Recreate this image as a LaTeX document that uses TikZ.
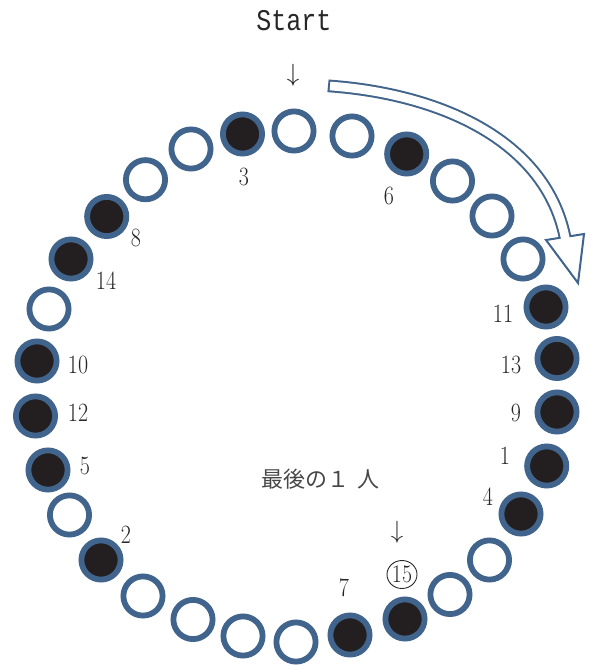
\documentclass[tikz,border=0pt]{standalone}
\usepackage{fontspec}
\usepackage{graphicx}
\newfontfamily\cjkfont{Noto Sans CJK JP}
\newfontfamily\startfont{Liberation Mono}
\usetikzlibrary{shapes.geometric}
\definecolor{ring}{RGB}{65,100,140}
\definecolor{dark}{RGB}{35,31,32}
\newcommand\tallnum[1]{\scalebox{1}[1.2]{#1}}
\begin{document}
\begin{tikzpicture}[x=1pt,y=-1pt,
  person/.style={circle,draw=ring,line width=5.8pt,minimum size=39.2pt,inner sep=0pt},
  gone/.style={person,fill=dark},
  alive/.style={person,fill=white},
  num/.style={font=\fontsize{22}{22}\selectfont,text=black!85,inner sep=0pt}]
\useasboundingbox (0,0) rectangle (593,666);

% circles
\node[alive] (c1)  at (294,131) {};
\node[alive] (c2)  at (352,136) {};
\node[gone]  (c3)  at (406.7,154) {};
\node[alive] (c4)  at (452.5,181) {};
\node[alive] (c5)  at (492,216) {};
\node[alive] (c6)  at (523,259) {};
\node[gone]  (c7)  at (546,307) {};
\node[gone]  (c8)  at (557,358.5) {};
\node[gone]  (c9)  at (557,412) {};
\node[gone]  (c10) at (546.7,466) {};
\node[gone]  (c11) at (521,514) {};
\node[alive] (c12) at (489.5,560) {};
\node[alive] (c13) at (450,594.5) {};
\node[gone]  (c14) at (405,619) {};
\node[gone]  (c15) at (350,635) {};
\node[alive] (c16) at (296,642) {};
\node[alive] (c17) at (243,636) {};
\node[alive] (c18) at (193,619.5) {};
\node[alive] (c19) at (143,596) {};
\node[gone]  (c20) at (101,560) {};
\node[alive] (c21) at (69.5,515) {};
\node[gone]  (c22) at (48,470) {};
\node[gone]  (c23) at (35.5,416) {};
\node[gone]  (c24) at (37,361) {};
\node[alive] (c25) at (49,309) {};
\node[gone]  (c26) at (71,259) {};
\node[gone]  (c27) at (106.7,216.5) {};
\node[alive] (c28) at (145.5,179.7) {};
\node[alive] (c29) at (191,149) {};
\node[gone]  (c30) at (242.5,134) {};

% order labels
\node[num] (n3)  at (244,177) {\tallnum{3}};
\node[num] (n6)  at (389,196) {\tallnum{6}};
\node[num] (n8)  at (136,238) {\tallnum{8}};
\node[num] (n14) at (106,281) {\tallnum{14}};
\node[num] (n10) at (78,365) {\tallnum{10}};
\node[num] (n12) at (78,413) {\tallnum{12}};
\node[num] (n5)  at (85,466) {\tallnum{5}};
\node[num] (n2)  at (126,535) {\tallnum{2}};
\node[num] (n7)  at (344,588) {\tallnum{7}};
\node[num] (n4)  at (488,497) {\tallnum{4}};
\node[num] (n1)  at (505,456) {\tallnum{1}};
\node[num] (n9)  at (516,413) {\tallnum{9}};
\node[num] (n13) at (511,365) {\tallnum{13}};
\node[num] (n11) at (503,314) {\tallnum{11}};

% texts
\node[inner sep=0pt,font=\startfont\fontsize{25}{25}\selectfont,text=black!85] (start) at (294,21) {\scalebox{1}[1.2]{Start}};
\node[inner sep=0pt,font=\fontsize{29}{29}\selectfont,text=black!90] (d1) at (293,75) {$\downarrow$};
\node[inner sep=0pt,font=\fontsize{23}{23}\selectfont,text=black!85] (d2) at (397,532.5) {$\downarrow$};
\node[inner sep=0pt,anchor=west,font=\cjkfont\fontsize{22}{22}\selectfont,text=black!72] (last) at (261,479) {最後の１\hspace{8pt}人};
\node[inner sep=0pt,font=\fontsize{23}{23}\selectfont,text=black!85] (n15) at (402,574.5) {\scalebox{0.95}[1.1]{15}};
\draw[black!85,line width=0.9pt] (n15.center) ellipse [x radius=15pt, y radius=14pt];

% big hollow arrow
\coordinate (tail) at (330,86);
\coordinate (base) at (565,237);
\draw[ring,line width=12.7pt] (328,85.8) -- (tail) .. controls (440,94) and (545,140) .. (base);
\draw[ring,line width=2pt,fill=white,line join=miter] (546,240) -- (578,283) -- (584,234) -- cycle;
\draw[white,line width=8.7pt] (tail) .. controls (440,94) and (545,140) .. (base) -- (566,242);
\end{tikzpicture}
\end{document}
